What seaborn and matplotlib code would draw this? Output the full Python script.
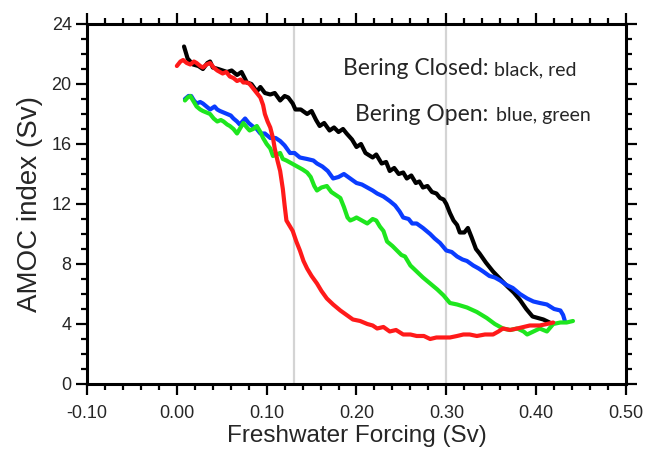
import matplotlib

matplotlib.use("Agg")
import matplotlib.pyplot as plt
import pandas as pd
import seaborn as sns
from matplotlib.ticker import MultipleLocator

# Bering Strait closed (black / red), open (blue / green)
black_x = [0.008, 0.012, 0.018, 0.024, 0.029, 0.034, 0.037, 0.040, 0.046, 0.051,
           0.056, 0.061, 0.067, 0.072, 0.078, 0.083, 0.089, 0.093, 0.098, 0.104,
           0.109, 0.115, 0.120, 0.124, 0.129, 0.132, 0.138, 0.145, 0.150, 0.155,
           0.159, 0.164, 0.170, 0.175, 0.180, 0.185, 0.189, 0.195, 0.200, 0.205,
           0.210, 0.218, 0.222, 0.228, 0.233, 0.237, 0.242, 0.247, 0.252, 0.256,
           0.261, 0.266, 0.270, 0.274, 0.279, 0.284, 0.289, 0.293, 0.297, 0.300,
           0.304, 0.308, 0.312, 0.315, 0.320, 0.324, 0.328, 0.333, 0.337, 0.344,
           0.352, 0.360, 0.368, 0.375, 0.382, 0.389, 0.396, 0.402, 0.408, 0.415]
black_y = [22.5, 21.7, 21.3, 21.2, 21.0, 21.4, 21.5, 21.1, 21.0, 20.9,
           20.8, 20.9, 20.6, 20.8, 20.1, 20.0, 19.5, 19.8, 19.4, 19.3,
           19.4, 18.9, 19.2, 19.1, 18.7, 18.3, 18.3, 18.0, 18.2, 17.6,
           17.2, 17.4, 16.9, 17.1, 16.8, 17.0, 16.7, 16.3, 15.8, 16.0,
           15.4, 15.1, 15.3, 14.7, 14.8, 14.2, 14.4, 14.0, 14.1, 13.7,
           13.9, 13.4, 13.5, 13.1, 13.2, 12.8, 12.7, 12.4, 12.3, 12.0,
           11.4, 10.9, 10.6, 10.1, 10.1, 10.4, 9.8, 9.0, 8.7, 8.1,
           7.5, 7.0, 6.5, 6.1, 5.6, 5.0, 4.5, 4.4, 4.3, 4.1]

red_x = [0.000, 0.004, 0.007, 0.011, 0.015, 0.019, 0.022, 0.026, 0.029, 0.033,
         0.037, 0.041, 0.045, 0.048, 0.051, 0.055, 0.059, 0.063, 0.067, 0.071,
         0.074, 0.078, 0.081, 0.085, 0.089, 0.093, 0.096, 0.098, 0.101, 0.104,
         0.107, 0.109, 0.112, 0.115, 0.118, 0.120, 0.122, 0.126, 0.129, 0.133,
         0.137, 0.141, 0.145, 0.150, 0.156, 0.161, 0.167, 0.174, 0.182, 0.189,
         0.196, 0.204, 0.212, 0.218, 0.223, 0.230, 0.237, 0.244, 0.252, 0.260,
         0.267, 0.275, 0.282, 0.289, 0.296, 0.304, 0.312, 0.319, 0.326, 0.334,
         0.343, 0.352, 0.358, 0.363, 0.371, 0.379, 0.386, 0.393, 0.404, 0.412,
         0.419]
red_y = [21.2, 21.5, 21.6, 21.4, 21.3, 21.5, 21.4, 21.2, 21.1, 21.3,
         21.4, 21.1, 20.9, 20.8, 20.7, 20.8, 20.5, 20.4, 20.2, 20.3,
         20.1, 20.1, 20.0, 19.7, 19.4, 19.1, 18.6, 18.0, 17.5, 17.1,
         16.4, 15.7, 14.9, 14.2, 13.0, 11.9, 10.9, 10.5, 10.2, 9.5,
         8.9, 8.2, 7.7, 7.2, 6.7, 6.2, 5.7, 5.3, 4.9, 4.6,
         4.3, 4.2, 4.0, 3.9, 3.7, 3.8, 3.5, 3.6, 3.3, 3.3,
         3.2, 3.2, 3.0, 3.1, 3.1, 3.1, 3.2, 3.3, 3.3, 3.2,
         3.3, 3.3, 3.5, 3.7, 3.6, 3.7, 3.8, 3.9, 3.9, 4.0,
         4.1]

blue_x = [0.009, 0.013, 0.016, 0.019, 0.022, 0.026, 0.029, 0.033, 0.037, 0.042,
          0.045, 0.048, 0.052, 0.056, 0.060, 0.063, 0.067, 0.070, 0.076, 0.080,
          0.084, 0.089, 0.093, 0.098, 0.104, 0.110, 0.115, 0.120, 0.126, 0.131,
          0.137, 0.145, 0.152, 0.156, 0.162, 0.168, 0.174, 0.180, 0.186, 0.193,
          0.200, 0.206, 0.212, 0.218, 0.223, 0.230, 0.237, 0.243, 0.248, 0.252,
          0.258, 0.262, 0.267, 0.274, 0.282, 0.287, 0.293, 0.300, 0.306, 0.312,
          0.318, 0.323, 0.330, 0.336, 0.341, 0.348, 0.354, 0.360, 0.367, 0.374,
          0.382, 0.390, 0.397, 0.404, 0.412, 0.420, 0.427, 0.430, 0.432]
blue_y = [19.0, 19.2, 19.2, 18.9, 18.7, 18.8, 18.7, 18.5, 18.3, 18.5,
          18.3, 18.2, 18.1, 18.0, 17.9, 17.7, 17.5, 17.3, 17.7, 17.4,
          17.2, 17.0, 16.7, 16.7, 16.4, 16.4, 16.2, 15.9, 15.4, 15.4,
          15.1, 15.0, 14.9, 14.7, 14.5, 14.2, 13.7, 13.8, 14.0, 13.7,
          13.4, 13.3, 13.1, 12.9, 12.7, 12.5, 12.2, 11.9, 11.5, 11.1,
          11.0, 10.7, 10.7, 10.4, 10.0, 9.7, 9.4, 8.9, 8.8, 8.5,
          8.3, 8.2, 7.9, 7.7, 7.5, 7.2, 7.1, 6.9, 6.6, 6.4,
          6.0, 5.7, 5.5, 5.4, 5.3, 5.0, 4.9, 4.6, 4.2]

green_x = [0.009, 0.012, 0.015, 0.019, 0.022, 0.026, 0.029, 0.033, 0.037, 0.041,
           0.045, 0.049, 0.052, 0.056, 0.059, 0.063, 0.067, 0.071, 0.074, 0.078,
           0.081, 0.085, 0.089, 0.093, 0.096, 0.100, 0.104, 0.107, 0.111, 0.115,
           0.118, 0.122, 0.128, 0.134, 0.140, 0.145, 0.149, 0.153, 0.156, 0.161,
           0.167, 0.172, 0.177, 0.182, 0.186, 0.190, 0.193, 0.197, 0.200, 0.206,
           0.212, 0.218, 0.222, 0.226, 0.230, 0.234, 0.240, 0.245, 0.250, 0.254,
           0.260, 0.267, 0.274, 0.282, 0.290, 0.297, 0.304, 0.312, 0.323, 0.334,
           0.345, 0.354, 0.363, 0.371, 0.379, 0.386, 0.390, 0.397, 0.404, 0.412,
           0.419, 0.427, 0.434, 0.441]
green_y = [18.9, 19.1, 19.2, 18.8, 18.5, 18.3, 18.2, 18.1, 18.0, 17.7,
           17.5, 17.6, 17.5, 17.3, 17.2, 17.0, 16.7, 17.1, 17.4, 17.1,
           16.9, 17.0, 17.2, 16.8, 16.4, 16.0, 15.7, 15.2, 15.3, 15.4,
           15.0, 14.9, 14.7, 14.5, 14.3, 14.1, 13.8, 13.2, 12.9, 13.1,
           13.2, 12.8, 12.6, 12.4, 11.8, 11.1, 10.9, 11.0, 11.1, 10.9,
           10.7, 11.0, 10.9, 10.5, 10.2, 9.5, 9.2, 8.9, 8.6, 8.5,
           7.9, 7.5, 7.1, 6.7, 6.3, 5.9, 5.4, 5.3, 5.1, 4.8,
           4.4, 4.0, 3.7, 3.6, 3.7, 3.5, 3.3, 3.5, 3.7, 3.5,
           4.0, 4.1, 4.1, 4.2]

vlines_x = [0.13, 0.30]
x_ticks = [-0.10, 0.00, 0.10, 0.20, 0.30, 0.40, 0.50]
y_ticks = [0, 4, 8, 12, 16, 20, 24]

sns.set_style("white")
plt.rcParams["font.family"] = ["Liberation Sans", "DejaVu Sans"]

fig = plt.figure(figsize=(6.47, 4.58), dpi=100)
ax = fig.add_axes([0.1345, 0.1616, 0.8330, 0.7860])

for xv in vlines_x:
    ax.axvline(xv, color="#d4d4d4", lw=1.6, zorder=0)

series = [
    (black_x, black_y, "black"),
    (blue_x, blue_y, "#0a3cff"),
    (green_x, green_y, "#1ee61e"),
    (red_x, red_y, "#ff1a1a"),
]
for xs, ys, col in series:
    df = pd.DataFrame({"x": xs, "y": ys})
    sns.lineplot(data=df, x="x", y="y", color=col, lw=3.0, sort=False,
                 estimator=None, ax=ax)

ax.set_xlim(-0.10, 0.50)
ax.set_ylim(0, 24)
ax.set_xticks(x_ticks)
ax.set_xticklabels([f"{t:.2f}" for t in x_ticks])
ax.set_yticks(y_ticks)
ax.xaxis.set_minor_locator(MultipleLocator(0.02))
ax.yaxis.set_minor_locator(MultipleLocator(1))

for side in ["left", "right", "top", "bottom"]:
    ax.spines[side].set_visible(True)
    ax.spines[side].set_color("black")
    ax.spines[side].set_linewidth(2.2)

ax.tick_params(which="both", direction="out", top=True, right=True,
               bottom=True, left=True, color="black", width=1.6)
ax.tick_params(which="major", length=8, labelsize=13, pad=3)
ax.tick_params(which="minor", length=4.5)
ax.tick_params(axis="x", which="major", pad=7)

ax.set_xlabel("Freshwater Forcing (Sv)", fontsize=17.5, labelpad=2)
ax.set_ylabel("AMOC index (Sv)", fontsize=20, labelpad=6)

# annotation
note_font = ["Lato", "DejaVu Sans"]
ax.text(0.3465, 20.6, "Bering Closed:", ha="right", va="baseline",
        fontsize=16.5, family=note_font)
ax.text(0.3535, 20.6, "black, red", ha="left", va="baseline",
        fontsize=14, family=note_font)
ax.text(0.3465, 17.5, "Bering Open:", ha="right", va="baseline",
        fontsize=16.5, family=note_font)
ax.text(0.3555, 17.5, "blue, green", ha="left", va="baseline",
        fontsize=14, family=note_font)

plt.savefig("out.png", dpi=100)
